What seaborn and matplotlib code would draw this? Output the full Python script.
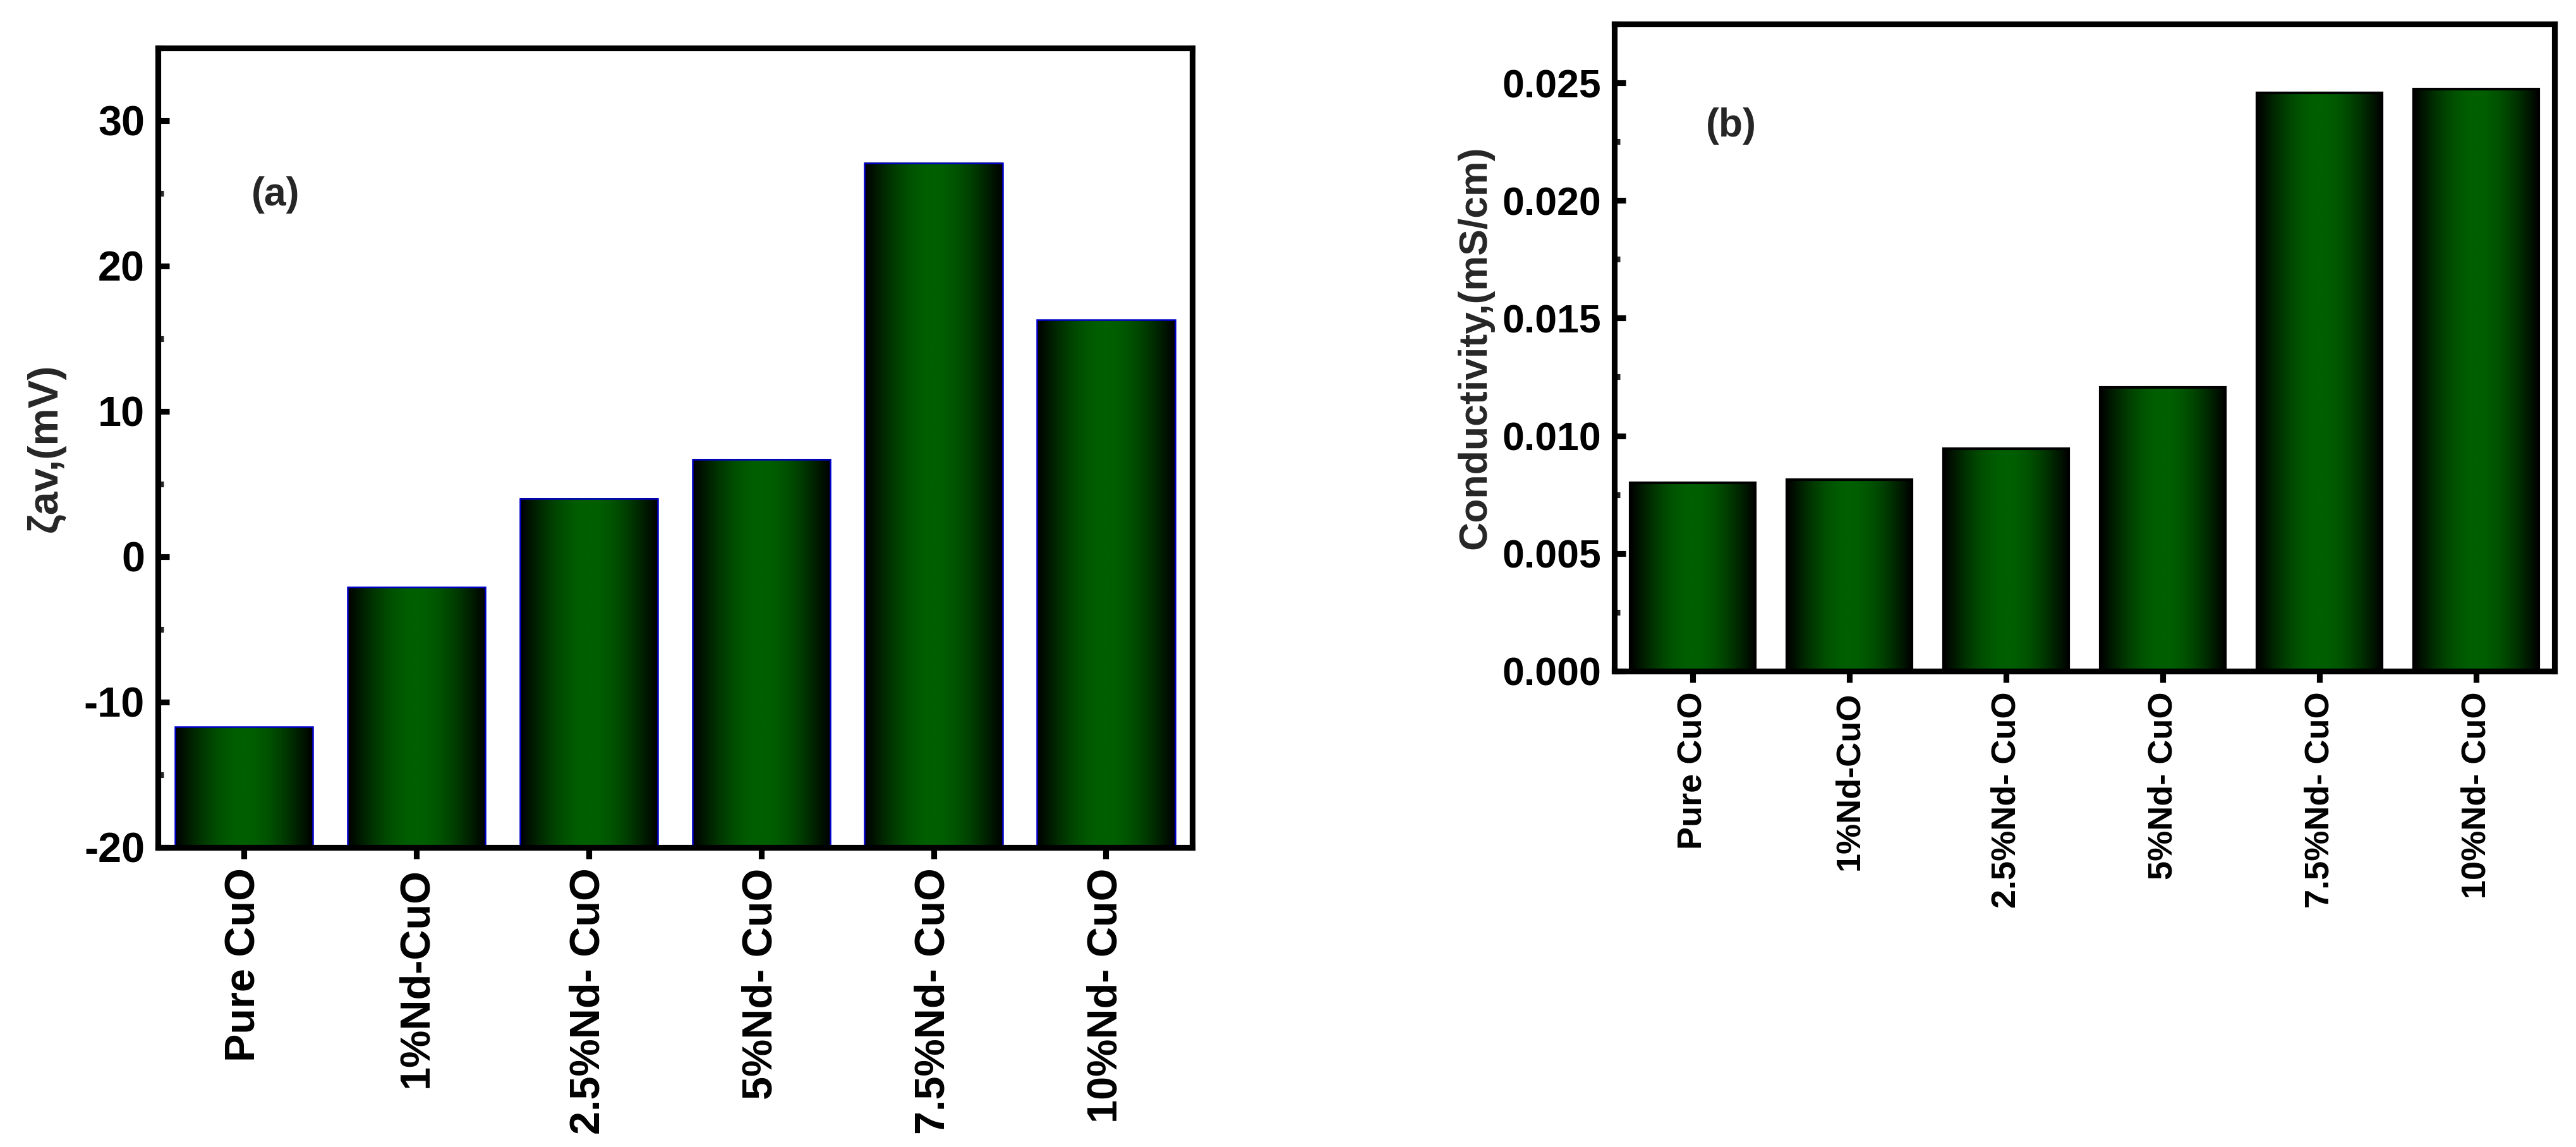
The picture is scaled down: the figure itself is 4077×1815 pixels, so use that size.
import matplotlib

matplotlib.use("Agg")
import matplotlib.pyplot as plt
import numpy as np
import seaborn as sns
from matplotlib.colors import LinearSegmentedColormap
from matplotlib.ticker import FormatStrFormatter, MultipleLocator

# sample names (same order in both panels)
samples = ["Pure CuO", "1%Nd-CuO", "2.5%Nd- CuO", "5%Nd- CuO", "7.5%Nd- CuO", "10%Nd- CuO"]
# (a) average zeta potential, mV
zeta_mv = [-11.7, -2.1, 4.0, 6.7, 27.1, 16.3]
# (b) conductivity, mS/cm
conductivity = [0.0080, 0.00814, 0.00946, 0.01205, 0.02457, 0.02473]

sns.set_style("ticks")
plt.rcParams["font.family"] = ["Liberation Sans", "DejaVu Sans"]
plt.rcParams["font.weight"] = "bold"
plt.rcParams["axes.unicode_minus"] = False

# black -> green, shaded with a sine profile across each bar (cylinder look)
bar_cmap = LinearSegmentedColormap.from_list("tube", ["#000000", "#005f00"])
grad = np.sin(np.pi * np.linspace(0, 1, 256)).reshape(1, -1)


def shade_bars(ax, base):
    """Move every bar to start at `base` and fill it with the gradient."""
    for p in ax.patches:
        top = p.get_y() + p.get_height()
        p.set_y(base)
        p.set_height(top - base)
        x0 = p.get_x()
        x1 = x0 + p.get_width()
        ax.imshow(grad, extent=[x0, x1, base, top], aspect="auto", vmin=0, vmax=1,
                  cmap=bar_cmap, interpolation="bicubic", zorder=1.5)
        p.set_facecolor("none")
        p.set_zorder(2)


def style_axes(ax, xsize, ysize):
    for s in ax.spines.values():
        s.set_visible(True)
        s.set_linewidth(2.2)
        s.set_color("black")
    ax.tick_params(axis="y", which="major", direction="in", length=4.3, width=2.2,
                   labelsize=ysize, pad=5, colors="black")
    ax.tick_params(axis="y", which="minor", direction="in", length=2.2, width=2.2)
    ax.tick_params(axis="x", which="major", direction="out", length=4.3, width=2.2,
                   labelsize=xsize, pad=3.5, labelrotation=90, colors="black")
    ax.set_xlabel("")


fig = plt.figure(figsize=(4077 / 300, 1815 / 300), dpi=300)
ax1 = fig.add_axes([0.0613, 0.2612, 0.4015, 0.697])
ax2 = fig.add_axes([0.6267, 0.4149, 0.365, 0.5642])

# (a) zeta potential
sns.barplot(x=samples, y=zeta_mv, ax=ax1, width=0.8, errorbar=None,
            color="#005f00", edgecolor="#0000cc", linewidth=0.6)
shade_bars(ax1, -20)
ax1.set_xlim(-0.5, 5.5)
ax1.set_ylim(-20, 35)
ax1.yaxis.set_major_locator(MultipleLocator(10))
ax1.yaxis.set_minor_locator(MultipleLocator(5))
style_axes(ax1, 16, 16)
ax1.set_ylabel("ζav,(mV)", fontsize=16, fontweight="bold", labelpad=7)
ax1.text(0.114, 0.816, "(a)", transform=ax1.transAxes, fontsize=15,
         fontweight="bold", ha="center", va="center")

# (b) conductivity
sns.barplot(x=samples, y=conductivity, ax=ax2, width=0.8, errorbar=None,
            color="#005f00", edgecolor="black", linewidth=1.0)
shade_bars(ax2, 0.0)
ax2.set_xlim(-0.5, 5.5)
ax2.set_ylim(0, 0.0275)
ax2.yaxis.set_major_locator(MultipleLocator(0.005))
ax2.yaxis.set_minor_locator(MultipleLocator(0.0025))
ax2.yaxis.set_major_formatter(FormatStrFormatter("%.3f"))
style_axes(ax2, 13, 15)
ax2.set_ylabel("Conductivity,(mS/cm)", fontsize=15, fontweight="bold", labelpad=3)
ax2.text(0.124, 0.842, "(b)", transform=ax2.transAxes, fontsize=15,
         fontweight="bold", ha="center", va="center")

fig.savefig("out.png", dpi=300)
plt.close(fig)
